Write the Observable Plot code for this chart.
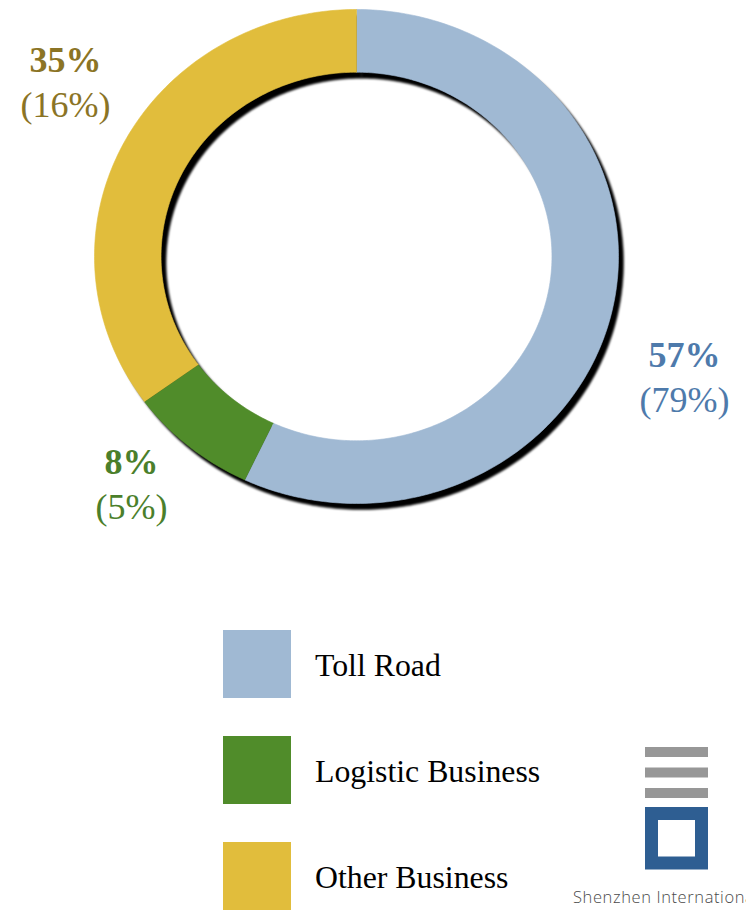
<!DOCTYPE html>
<html>
<head>
<meta charset="utf-8">
<script src="https://cdn.jsdelivr.net/npm/d3@7"></script>
<script src="https://cdn.jsdelivr.net/npm/@observablehq/plot@0.6"></script>
<style>
  html, body { margin: 0; padding: 0; background: #fff; }
  #page { position: relative; width: 746px; height: 911px; overflow: hidden; background: #fff; }
  #chart { position: absolute; left: 0; top: 0; }
  .leg-row { position: absolute; left: 223px; height: 68px; display: flex; align-items: center; }
  .leg-sw { width: 68px; height: 68px; flex: none; }
  .leg-tx { margin-left: 24px; padding-top: 3px; font-family: "Liberation Serif", "Times New Roman", serif; font-size: 31.8px; color: #000; white-space: nowrap; }
  #logo { position: absolute; left: 0; top: 0; }
</style>
</head>
<body>
<div id="page">
  <div id="chart"></div>
  <div id="legend"></div>
  <svg id="logo" width="746" height="911"></svg>
</div>
<script>
// ---- data ----
const categories = ["Toll Road", "Logistic Business", "Other Business"];
const share = [57, 8, 35];          // main percentage
const shareAlt = [79, 5, 16];       // percentage in brackets
const sliceColors = ["#a0b9d3", "#508c2a", "#e1bd3c"];
const labelColors = ["#4e7aab", "#4b7f2b", "#8b7425"];

// ---- layout (label anchors in unit ring space, first-line baseline) ----
const labelAnchor = [[1.252, -0.449], [-0.859, -0.879], [-1.111, 0.745]];
const innerRatio = 0.746;

// build ring slice polygons from the values
const total = d3.sum(share);
const ringRows = [];
let acc = 0;
categories.forEach((c, i) => {
  const a0 = acc / total * 2 * Math.PI;
  acc += share[i];
  const a1 = acc / total * 2 * Math.PI;
  const n = Math.max(10, Math.ceil(share[i] * 4));
  for (let k = 0; k <= n; k++) {
    const t = a0 + (a1 - a0) * k / n;
    ringRows.push({cat: c, x: Math.sin(t), y: Math.cos(t)});
  }
  for (let k = n; k >= 0; k--) {
    const t = a0 + (a1 - a0) * k / n;
    ringRows.push({cat: c, x: innerRatio * Math.sin(t), y: innerRatio * Math.cos(t)});
  }
});

const labelRows = categories.map((c, i) => ({
  cat: c,
  x: labelAnchor[i][0],
  y: labelAnchor[i][1],
  main: share[i] + "%",
  alt: "(" + shareAlt[i] + "%)",
  color: labelColors[i]
}));

const marks = [
  // shadow
  Plot.line(ringRows, {x: "x", y: "y", z: "cat", fill: "#000", stroke: "#000", strokeWidth: 0.5, dx: 5, dy: 6, curve: "linear"}),
  // slices
  ...categories.map((c, i) => Plot.line(ringRows.filter(d => d.cat === c), {
    x: "x", y: "y", fill: sliceColors[i], stroke: sliceColors[i], strokeWidth: 0.6, curve: "linear"
  })),
  // labels
  ...labelRows.map(d => Plot.text([d], {
    x: "x", y: "y", text: "main", fill: d.color, textAnchor: "middle", lineAnchor: "bottom",
    fontFamily: "Liberation Serif, Times New Roman, serif", fontSize: 36, fontWeight: "bold"
  })),
  ...labelRows.map(d => Plot.text([d], {
    x: "x", y: "y", text: "alt", fill: d.color, textAnchor: "middle", lineAnchor: "bottom", dy: 45,
    fontFamily: "Liberation Serif, Times New Roman, serif", fontSize: 36
  }))
];

const plot = Plot.plot({
  width: 746,
  height: 580,
  x: {domain: [-1, 1], range: [94, 618], axis: null},
  y: {domain: [1, -1], range: [9, 503], axis: null},
  style: {background: "transparent", overflow: "visible"},
  marks
});

// blur filter for the shadow
const svgSel = d3.select(plot);
const defs = svgSel.insert("defs", ":first-child");
defs.append("filter").attr("id", "ringShadow").attr("x", "-10%").attr("y", "-10%").attr("width", "120%").attr("height", "120%")
  .append("feGaussianBlur").attr("stdDeviation", 1.1);
const lineGroups = plot.querySelectorAll('g[aria-label="line"]');
if (lineGroups.length) lineGroups[0].setAttribute("filter", "url(#ringShadow)");

document.getElementById("chart").appendChild(plot);

// ---- legend ----
const legend = d3.select("#legend");
categories.forEach((c, i) => {
  const row = legend.append("div").attr("class", "leg-row").style("top", (630 + 106 * i) + "px");
  row.append("div").attr("class", "leg-sw").style("background", sliceColors[i]);
  row.append("div").attr("class", "leg-tx").text(c);
});

// ---- logo ----
const logo = d3.select("#logo");
[747, 767.5, 788].forEach(t => logo.append("rect").attr("x", 645).attr("y", t).attr("width", 63).attr("height", 10).attr("fill", "#979797"));
logo.append("rect").attr("x", 651.5).attr("y", 813.5).attr("width", 50).attr("height", 49.5).attr("fill", "none").attr("stroke", "#2e5e92").attr("stroke-width", 13);
logo.append("text").attr("x", 573).attr("y", 903).attr("font-family", "Open Sans, DejaVu Sans, sans-serif").attr("font-weight", 300)
  .attr("font-size", 16.5).attr("letter-spacing", 0.6).attr("fill", "#4a4a4a").text("Shenzhen International");
</script>
</body>
</html>
